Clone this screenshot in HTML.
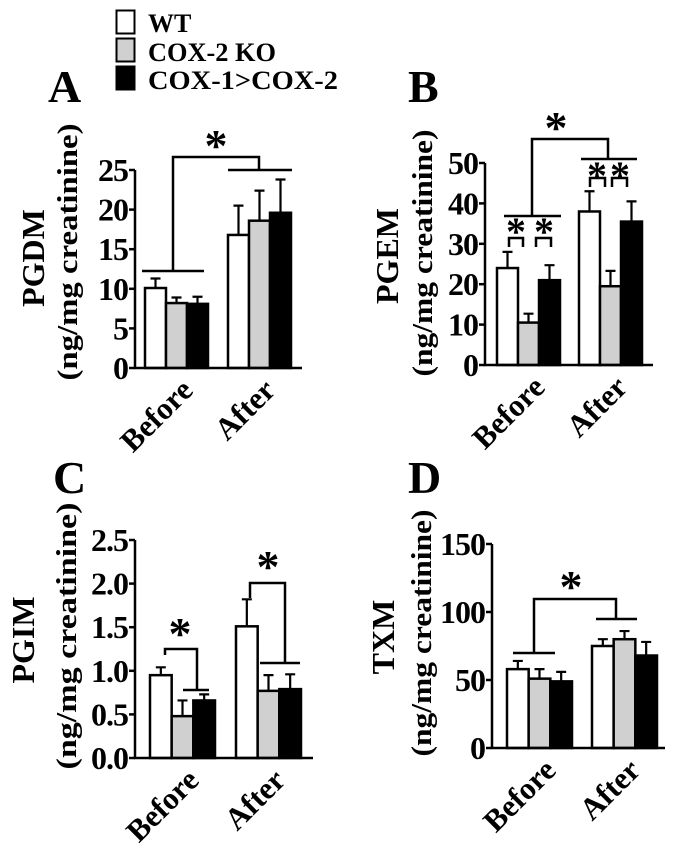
<!DOCTYPE html>
<html><head><meta charset="utf-8">
<style>
html,body{margin:0;padding:0;background:#fff;}
svg{display:block;font-family:"Liberation Serif","Times New Roman",serif;font-weight:bold;}
</style></head>
<body>
<svg id="fig" width="675" height="854" viewBox="0 0 675 854" xmlns="http://www.w3.org/2000/svg">
  <g>
    <rect x="116.5" y="10.5" width="18" height="23" fill="#fff" stroke="#000" stroke-width="2"/>
    <text x="148" y="32" font-size="26">WT</text>
    <rect x="116.5" y="38.5" width="18" height="23" fill="#d0d0d0" stroke="#000" stroke-width="2"/>
    <text x="148" y="61" font-size="26" textLength="128" lengthAdjust="spacingAndGlyphs">COX-2 KO</text>
    <rect x="116.5" y="66.5" width="18" height="23" fill="#000" stroke="#000" stroke-width="2"/>
    <text x="148" y="89" font-size="26" textLength="190" lengthAdjust="spacingAndGlyphs">COX-1&gt;COX-2</text>
  </g>
</svg>
<script>
// ---- data ----
const groups = ["Before", "After"];
const seriesNames = ["WT", "COX-2 KO", "COX-1>COX-2"];
const pgdmMean = [[10.1, 8.2, 8.1], [16.8, 18.6, 19.6]];
const pgdmErr  = [[11.3, 8.9, 9.0], [20.5, 22.4, 23.8]];
const pgdmTicks = ["0","5","10","15","20","25"];
const pgemMean = [[24, 10.5, 21], [38, 19.5, 35.5]];
const pgemErr  = [[28, 12.7, 24.7], [43, 23.3, 40.5]];
const pgemTicks = ["0","10","20","30","40","50"];
const pgimMean = [[0.95, 0.48, 0.66], [1.51, 0.77, 0.79]];
const pgimErr  = [[1.04, 0.66, 0.73], [1.82, 0.95, 0.96]];
const pgimTicks = ["0.0","0.5","1.0","1.5","2.0","2.5"];
const txmMean = [[58, 51, 49], [75, 80, 68]];
const txmErr  = [[64, 58, 56], [80, 86, 78]];
const txmTicks = ["0","50","100","150"];

const fills = ["#fff", "#d0d0d0", "#000"];
const NS = "http://www.w3.org/2000/svg";
const svg = document.getElementById("fig");
function mk(tag, attrs, parent) {
  const e = document.createElementNS(NS, tag);
  for (const k in attrs) e.setAttribute(k, attrs[k]);
  (parent || svg).appendChild(e);
  return e;
}
function panel(cfg) {
  const g = mk("g", {});
  
  
  const max = parseFloat(cfg.ticks[cfg.ticks.length - 1]);
  const y = v => cfg.y0 - (v / max) * (cfg.y0 - cfg.yTop);
  const bw = (cfg.groupX[0][1] - cfg.groupX[0][0]) / 3;
  const barX = (gi, si) => cfg.groupX[gi][0] + si * bw;
  const barC = (gi, si) => barX(gi, si) + bw / 2;
  const L = mk("text", {x: cfg.letterX, y: cfg.letterY, "font-size": 46}, g);
  L.textContent = cfg.letter;
  
  
  const t1 = mk("text", {transform: `translate(${cfg.t1x},${cfg.tcy}) rotate(-90)`, "text-anchor": "middle", "font-size": 32}, g);
  t1.textContent = cfg.title;
  
  
  const t2 = mk("text", {transform: `translate(${cfg.t2x},${cfg.t2cy}) rotate(-90)`, "text-anchor": "middle", "font-size": 28, textLength: cfg.t2len, lengthAdjust: "spacingAndGlyphs"}, g);
  t2.textContent = "(ng/mg creatinine)";
  
  
  cfg.mean.forEach((row, gi) => row.forEach((v, si) => {
    const r = mk("rect", {x: barX(gi, si), y: y(v), width: bw, height: cfg.y0 - y(v), fill: fills[si], stroke: "#000", "stroke-width": 2.5}, g);
    
    
    const c = barC(gi, si), e = cfg.err[gi][si];
    const p = mk("path", {d: `M${c},${y(v)}V${y(e)}M${c-5},${y(e)}H${c+5}`, stroke: "#000", "stroke-width": 2.2, fill: "none"}, g);
    
    
  }));
  const ax = mk("path", {d: `M${cfg.axisX},${cfg.yTop}V${cfg.y0}H${cfg.axisEnd}`, stroke: "#000", "stroke-width": 2.5, fill: "none"}, g);
  
  
  cfg.ticks.forEach(t => {
    const ty = y(parseFloat(t));
    const tk = mk("path", {d: `M${cfg.axisX-6},${ty}H${cfg.axisX}`, stroke: "#000", "stroke-width": 2.5}, g);
    
    
    const tl = mk("text", {x: cfg.axisX - 7, y: ty + 11, "text-anchor": "end", "font-size": 32, "letter-spacing": "-1"}, g);
    tl.textContent = t;
    
    
  });
  groups.forEach((name, gi) => {
    const cx = (cfg.groupX[gi][0] + cfg.groupX[gi][1]) / 2 + 18;
    const xl = mk("text", {transform: `translate(${cx},${cfg.y0 + 24}) rotate(-45)`, "text-anchor": "end", "font-size": 31}, g);
    xl.textContent = name;
    
    
  });
  (cfg.sig || []).forEach(s => {
    const p = mk("path", {d: s.d, stroke: "#000", "stroke-width": 2.5, fill: "none"}, g);
    
    
  });
  (cfg.stars || []).forEach(s => {
    const st = mk("text", {x: s[0], y: s[1], "text-anchor": "middle", "font-size": s[2]}, g);
    st.textContent = "*";
    
    
  });
}
panel({id: "a", letter: "A", letterX: 48, letterY: 102, title: "PGDM", t1x: 44, tcy: 258, t2x: 77, t2cy: 252, t2len: 257,
  mean: pgdmMean, err: pgdmErr, ticks: pgdmTicks, y0: 368, yTop: 170, axisX: 135, axisEnd: 302,
  groupX: [[145, 208], [228, 290]],
  sig: [{d: "M142,271H204"}, {d: "M228,170H292"}, {d: "M173,271V157H259V170"}],
  stars: [[216, 161, 46]]});
panel({id: "b", letter: "B", letterX: 408, letterY: 102, title: "PGEM", t1x: 398, tcy: 256, t2x: 432, t2cy: 253, t2len: 247,
  mean: pgemMean, err: pgemErr, ticks: pgemTicks, y0: 365, yTop: 163, axisX: 485, axisEnd: 653,
  groupX: [[497, 560], [579, 643]],
  sig: [{d: "M504,216H561"}, {d: "M581,159H637"}, {d: "M532,216V139H608V159"},
        {d: "M509,247V238H523V247"}, {d: "M536,247V238H551V247"},
        {d: "M590,187V178H605V187"}, {d: "M612,187V178H627V187"}],
  stars: [[556, 143, 46], [516, 245, 40], [544, 245, 40], [597, 189, 40], [620, 189, 40]]});
panel({id: "c", letter: "C", letterX: 53, letterY: 493, title: "PGIM", t1x: 34, tcy: 640, t2x: 76, t2cy: 636, t2len: 267,
  mean: pgimMean, err: pgimErr, ticks: pgimTicks, y0: 758, yTop: 540, axisX: 135, axisEnd: 313,
  groupX: [[150, 215], [236, 302]],
  sig: [{d: "M183,690H209"}, {d: "M165,655V649H197V690"}, {d: "M260,663H300"}, {d: "M250,598V583H285V663"}],
  stars: [[180, 649, 46], [268, 582, 46]]});
panel({id: "d", letter: "D", letterX: 408, letterY: 493, title: "TXM", t1x: 394, tcy: 637, t2x: 431, t2cy: 633, t2len: 247,
  mean: txmMean, err: txmErr, ticks: txmTicks, y0: 748, yTop: 544, axisX: 492, axisEnd: 665,
  groupX: [[507, 572], [592, 656]],
  sig: [{d: "M513,653H555"}, {d: "M596,619H637"}, {d: "M534,653V599H616V619"}],
  stars: [[571, 602, 46]]});
</script>
</body></html>
